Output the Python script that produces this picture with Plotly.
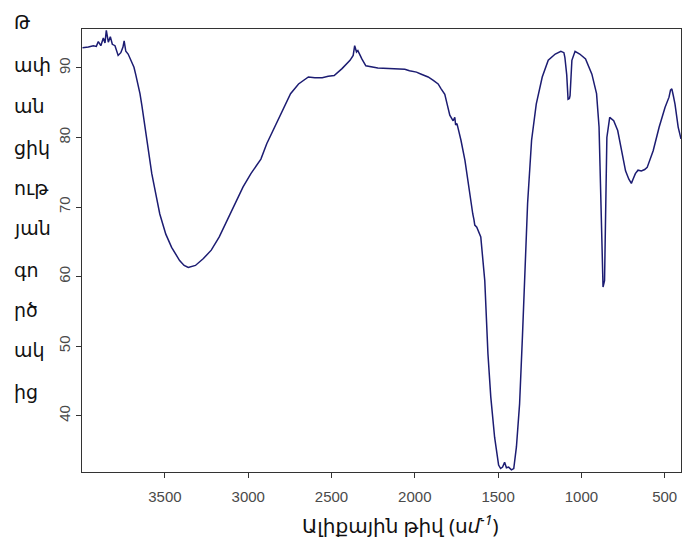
import plotly.graph_objects as go

# Wavenumber (cm^-1) and transmittance (%)
wavenumber = [3995, 3960, 3930, 3912, 3900, 3885, 3870, 3860, 3852, 3845, 3840, 3828, 3816, 3800,
              3781, 3765, 3752, 3745, 3735, 3721, 3705, 3686, 3675, 3662, 3650, 3638, 3626,
              3602, 3579, 3555, 3531, 3495, 3460, 3412, 3385, 3360, 3317, 3269, 3222, 3174,
              3127, 3079, 3031, 2984, 2924, 2889, 2841, 2793, 2746, 2698, 2639, 2600, 2556,
              2520, 2484, 2437, 2389, 2370, 2361, 2350, 2342, 2318, 2294, 2222, 2160, 2104,
              2060, 2032, 1990, 1961, 1920, 1889, 1860, 1842, 1820, 1806, 1790, 1770, 1760, 1755,
              1747, 1735, 1723, 1699, 1675, 1652, 1645, 1640, 1628, 1604, 1580, 1561, 1544, 1521, 1497,
              1485, 1473, 1461, 1450, 1437, 1420, 1406, 1390, 1371, 1354, 1342, 1323, 1299,
              1271, 1235, 1199, 1157, 1123, 1105, 1099, 1088, 1080, 1072, 1068, 1057, 1038,
              1010, 975, 937, 909, 894, 882, 870, 861, 854, 847, 830, 806, 782, 758, 735,
              715, 700, 690, 676, 660, 640, 620, 605, 569, 533, 498, 474, 465, 457, 448,
              438, 419, 402]
transmittance = [92.9, 93.0, 93.2, 93.1, 93.8, 93.2, 94.3, 93.6, 95.4, 93.9, 93.7, 94.5, 93.4, 93.2,
                 91.8, 92.2, 93.0, 93.9, 92.4, 92.0, 91.0, 90.1, 89.0, 87.7, 86.3, 84.5, 82.4,
                 78.1, 74.8, 71.9, 69.0, 66.1, 64.2, 62.3, 61.6, 61.3, 61.6, 62.6, 63.8, 65.7,
                 68.1, 70.5, 72.9, 74.8, 76.9, 79.1, 81.5, 84.1, 86.3, 87.7, 88.7, 88.6, 88.6,
                 88.8, 88.9, 89.9, 91.1, 91.8, 93.2, 92.3, 92.5, 91.3, 90.3, 90.0, 89.9, 89.8,
                 89.8, 89.6, 89.4, 89.1, 88.7, 88.2, 87.7, 87.0, 86.2, 84.8, 83.2, 82.4, 82.9, 81.8,
                 82.0, 80.8, 79.6, 76.7, 72.4, 69.0, 68.2, 67.4, 67.1, 65.7, 59.4, 48.9, 42.7, 36.9, 32.9,
                 32.4, 32.6, 33.3, 32.5, 32.6, 32.2, 32.4, 35.5, 41.7, 51.3, 58.5, 70.5, 79.6,
                 84.8, 88.7, 91.1, 92.0, 92.4, 92.2, 91.5, 89.0, 85.5, 85.6, 86.0, 91.1, 92.4,
                 92.0, 91.3, 89.1, 86.3, 81.5, 70.5, 58.5, 59.4, 70.5, 80.0, 82.9, 82.4, 81.0,
                 78.1, 75.2, 74.0, 73.4, 74.0, 74.8, 75.3, 75.2, 75.4, 75.7, 78.1, 81.5, 84.3,
                 85.8, 86.8, 87.0, 86.0, 84.8, 81.5, 79.8]

x_ticks = [3500, 3000, 2500, 2000, 1500, 1000, 500]
y_ticks = [40, 50, 60, 70, 80, 90]
y_title_parts = ["Թ", "ափ", "ան", "ցիկ", "ութ", "յան", "գո", "րծ", "ակ", "ից"]
x_title = "Ալիքային թիվ (ս<i>մ</i><sup><i>-1</i></sup>)"

W, H = 683, 545
fig = go.Figure()
fig.add_trace(go.Scatter(x=wavenumber, y=transmittance, mode="lines",
                         line=dict(color="#1c1c72", width=1.5), showlegend=False,
                         hoverinfo="skip"))

axis_common = dict(showgrid=False, zeroline=False, showline=True, linecolor="#333333",
                   linewidth=1, mirror=True, ticks="outside", ticklen=5,
                   tickcolor="#333333",
                   tickfont=dict(family="Arial, Liberation Sans, sans-serif", size=15,
                                 color="#4a4a4a"))
fig.update_xaxes(range=[3998, 402], tickvals=x_ticks, ticklabelstandoff=6, **axis_common)
fig.update_yaxes(range=[31.9, 95.6], tickvals=y_ticks, tickangle=-90, **axis_common)

ann = []
ys = [22, 65, 106, 148, 188, 228, 270, 310, 350, 392]
for t, yp in zip(y_title_parts, ys):
    ann.append(dict(text=t, xref="paper", yref="paper",
                    x=(12 - 82) / (681 - 82), y=(472 - yp) / (472 - 29),
                    xanchor="left", yanchor="middle", showarrow=False,
                    font=dict(family="Noto Sans, DejaVu Sans, sans-serif", size=19,
                              color="#111111")))
ann.append(dict(text=x_title, xref="paper", yref="paper",
                x=(400 - 82) / (681 - 82), y=(472 - 524) / (472 - 29),
                xanchor="center", yanchor="middle", showarrow=False,
                font=dict(family="Noto Sans, DejaVu Sans, sans-serif", size=20,
                          color="#111111")))

fig.update_layout(width=W, height=H, margin=dict(l=82, r=2, t=29, b=73),
                  paper_bgcolor="white", plot_bgcolor="white", annotations=ann)
fig.write_html("out.html")
